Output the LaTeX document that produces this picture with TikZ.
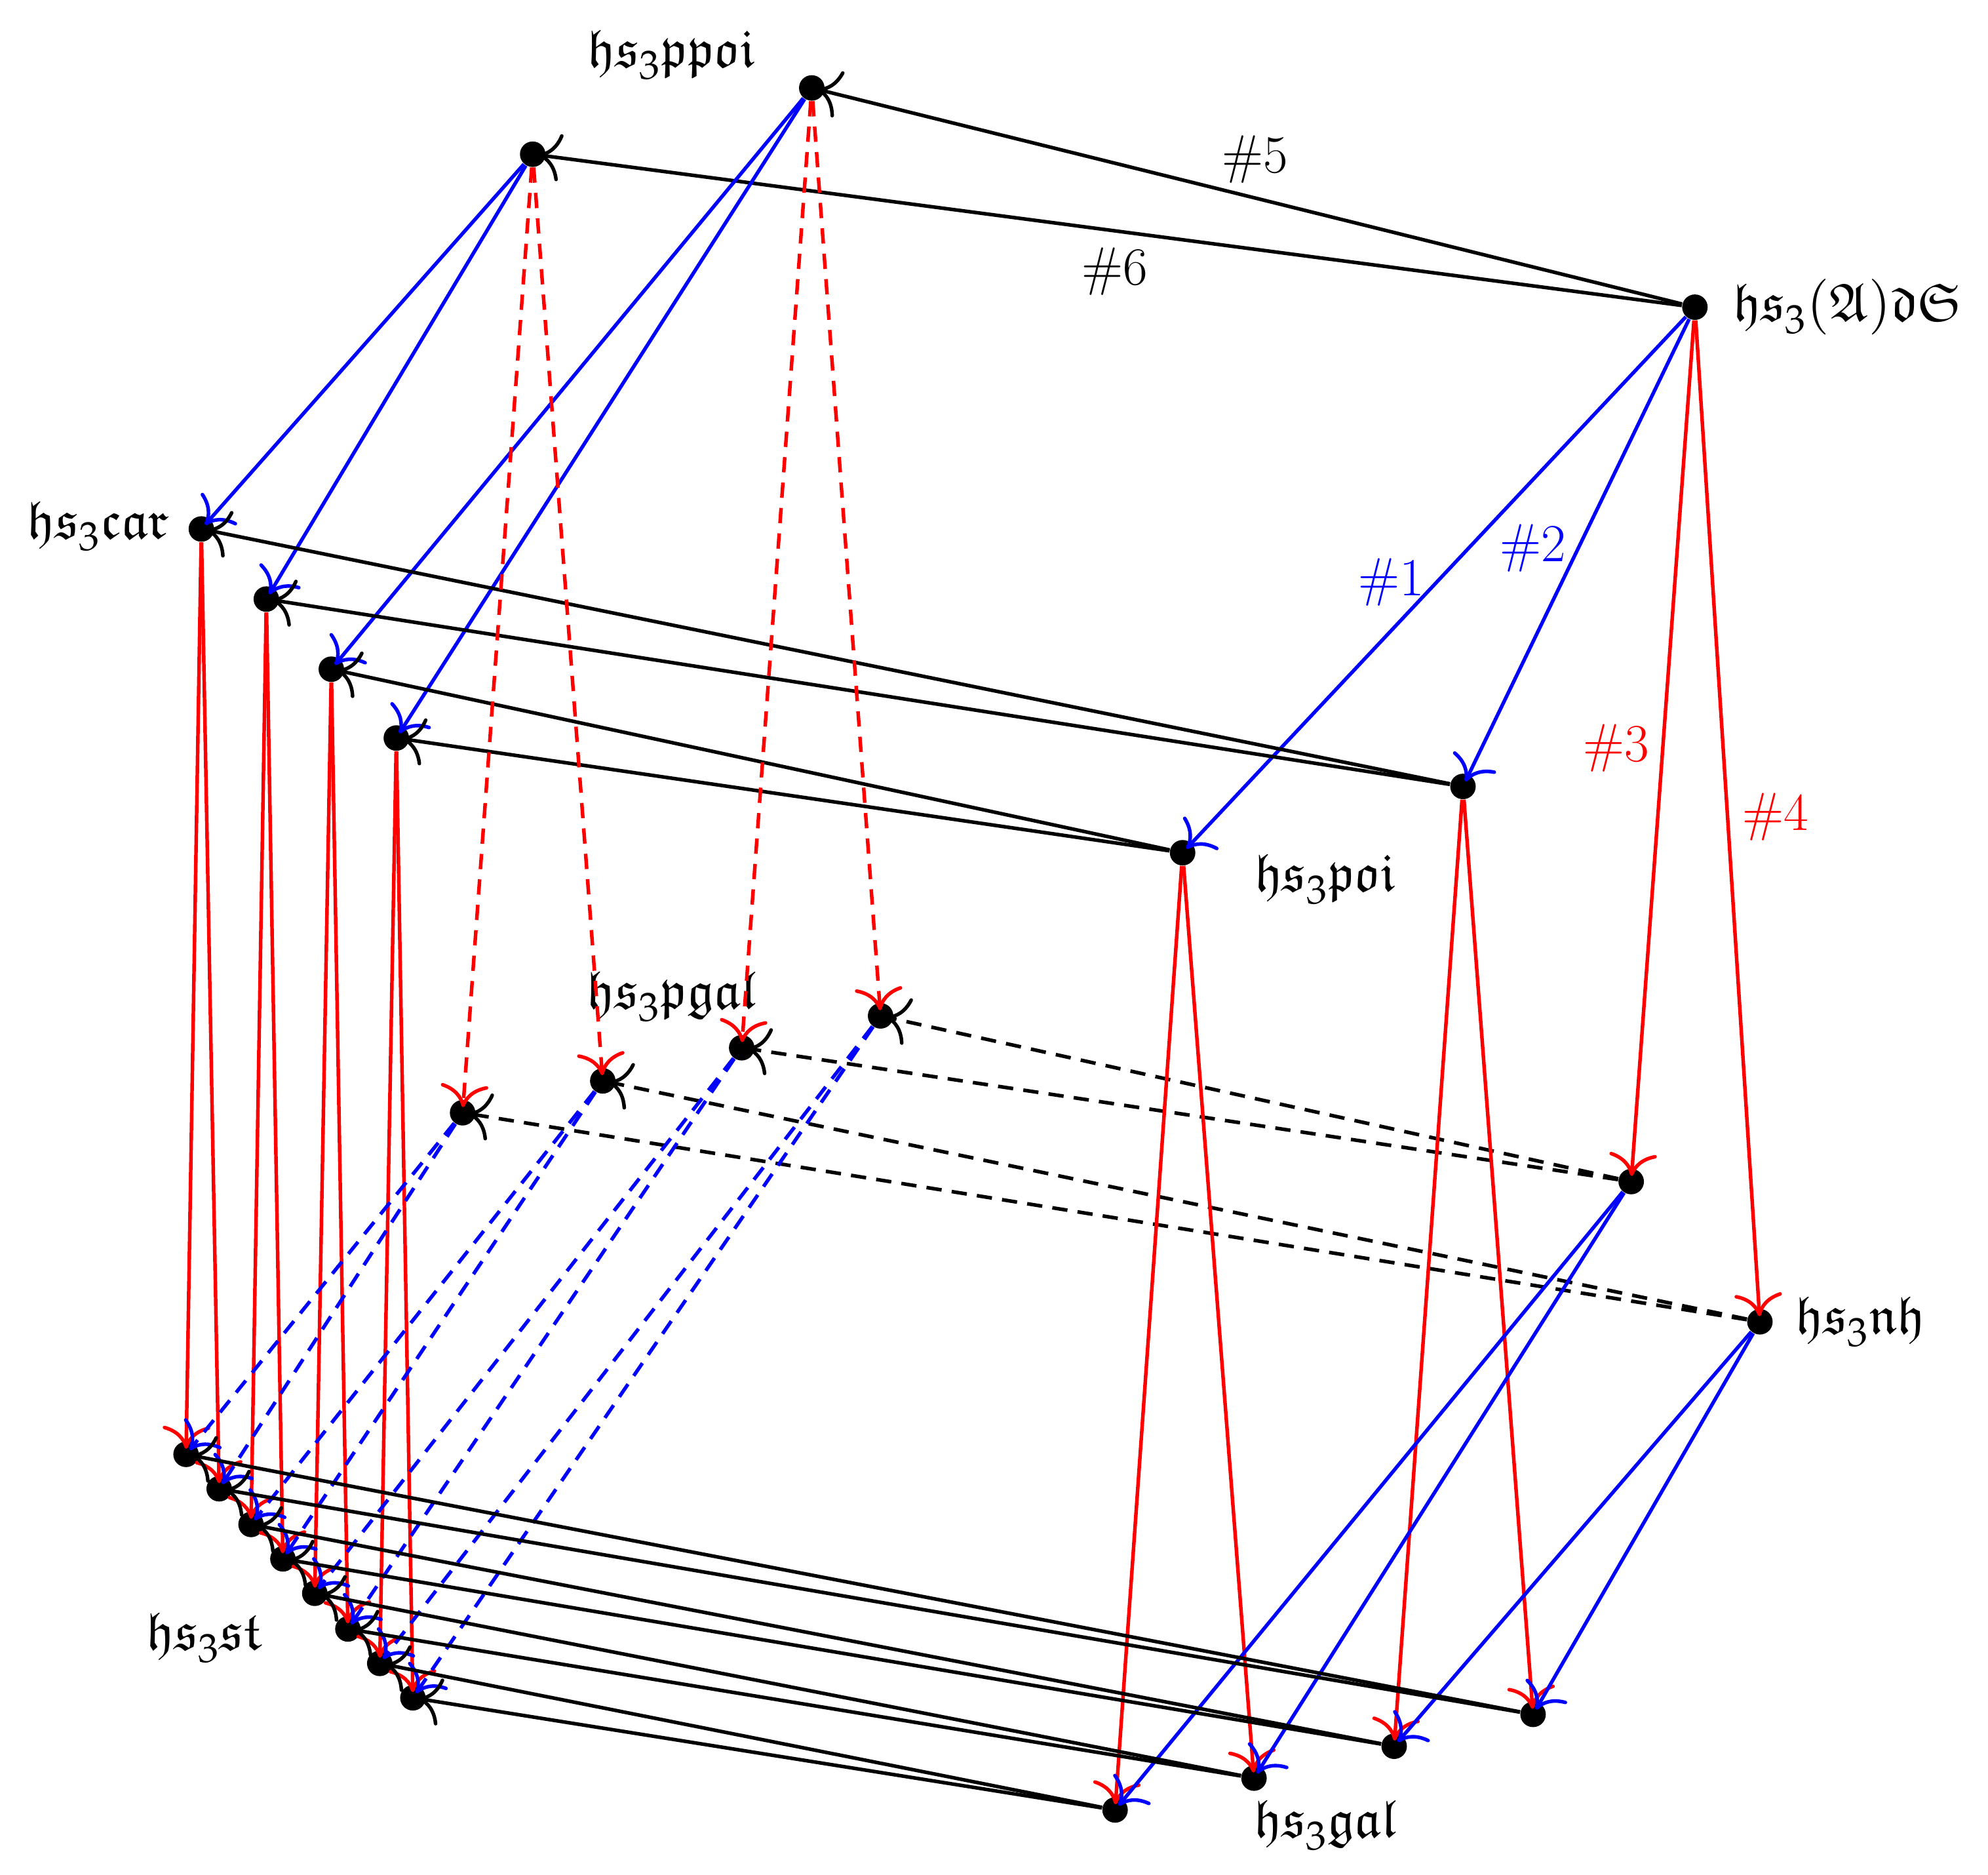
\documentclass[tikz,border=0pt]{standalone}
\usepackage{mathpazo}
\usepackage{amssymb}
\usetikzlibrary{arrows.meta}
\begin{document}
\begin{tikzpicture}[x=0.5pt,y=-0.5pt,
  dot/.style={circle,fill=black,inner sep=0pt,minimum size=10pt},
  lab/.style={font=\fontsize{21}{24}\selectfont},
  ar/.style={line width=1.4pt,-{To[scale=1.9]},shorten >=-3pt},
  bk/.style={ar,black},
  bl/.style={ar,blue},
  rd/.style={ar,red},
  ds/.style={dash pattern=on 6pt off 4pt}]
\useasboundingbox (0,0) rectangle (1560,1471);
\node[dot] (A) at (1330,241) {};
\node[dot] (pp) at (637,69) {};
\node[dot] (t) at (418,121) {};
\node[dot] (c1) at (158,415) {};
\node[dot] (c2) at (209,470) {};
\node[dot] (c3) at (260,525) {};
\node[dot] (c4) at (311,579) {};
\node[dot] (poi) at (928,669) {};
\node[dot] (q) at (1148,617) {};
\node[dot] (r) at (1280,927) {};
\node[dot] (nh) at (1381,1037) {};
\node[dot] (m1) at (363,873) {};
\node[dot] (m2) at (473,848) {};
\node[dot] (m3) at (582,822) {};
\node[dot] (m4) at (691,797) {};
\foreach \i/\x/\y in {1/146/1141,2/172/1168,3/197/1196,4/222/1223,5/247/1250,6/273/1278,7/298/1305,8/324/1332}
  \node[dot] (s\i) at (\x,\y) {};
\node[dot] (g1) at (875,1420) {};
\node[dot] (g2) at (984,1395) {};
\node[dot] (g3) at (1094,1370) {};
\node[dot] (g4) at (1203,1345) {};
% labels
\node[lab] (L1) at (527,43) {$\mathfrak{hs}_3\mathfrak{ppoi}$};
\node[lab] (L2) at (77,413) {$\mathfrak{hs}_3\mathfrak{car}$};
\node[lab] (L3) at (1040,690) {$\mathfrak{hs}_3\mathfrak{poi}$};
\node[lab] (L4) at (527,782) {$\mathfrak{hs}_3\mathfrak{pgal}$};
\node[lab] (L5) at (1460,1037) {$\mathfrak{hs}_3\mathfrak{nh}$};
\node[lab] (L6) at (160,1285) {$\mathfrak{hs}_3\mathfrak{st}$};
\node[lab] (L7) at (1040,1432) {$\mathfrak{hs}_3\mathfrak{gal}$};
\node[lab] (L8) at (1450,241) {$\mathfrak{hs}_3(\mathfrak{A})\mathfrak{dS}$};
\node[lab] (n5) at (985,125) {\#5};
\node[lab] (n6) at (875,213) {\#6};
\node[lab,blue] (n1) at (1092,457) {\#1};
\node[lab,blue] (n2) at (1203,430) {\#2};
\node[lab,red] (n3) at (1268,587) {\#3};
\node[lab,red] (n4) at (1393,641) {\#4};
% top
\draw[bk] (A) -- (pp);
\draw[bk] (A) -- (t);
\draw[bl] (A) -- (poi);
\draw[bl] (A) -- (q);
\draw[rd] (A) -- (r);
\draw[rd] (A) -- (nh);
\draw[bl] (t) -- (c1);
\draw[bl] (t) -- (c2);
\draw[bl] (pp) -- (c3);
\draw[bl] (pp) -- (c4);
\draw[bk] (q) -- (c1);
\draw[bk] (q) -- (c2);
\draw[bk] (poi) -- (c3);
\draw[bk] (poi) -- (c4);
\draw[rd,ds] (t) -- (m1);
\draw[rd,ds] (t) -- (m2);
\draw[rd,ds] (pp) -- (m3);
\draw[rd,ds] (pp) -- (m4);
\draw[bk,ds] (r) -- (m3);
\draw[bk,ds] (r) -- (m4);
\draw[bk,ds] (nh) -- (m1);
\draw[bk,ds] (nh) -- (m2);
% left verticals
\draw[rd] (c1) -- (s1); \draw[rd] (c1) -- (s2);
\draw[rd] (c2) -- (s3); \draw[rd] (c2) -- (s4);
\draw[rd] (c3) -- (s5); \draw[rd] (c3) -- (s6);
\draw[rd] (c4) -- (s7); \draw[rd] (c4) -- (s8);
\draw[bl,ds] (m1) -- (s1); \draw[bl,ds] (m1) -- (s2);
\draw[bl,ds] (m2) -- (s3); \draw[bl,ds] (m2) -- (s4);
\draw[bl,ds] (m3) -- (s5); \draw[bl,ds] (m3) -- (s6);
\draw[bl,ds] (m4) -- (s7); \draw[bl,ds] (m4) -- (s8);
% right
\draw[rd] (poi) -- (g1); \draw[rd] (poi) -- (g2);
\draw[rd] (q) -- (g3); \draw[rd] (q) -- (g4);
\draw[bl] (r) -- (g1); \draw[bl] (r) -- (g2);
\draw[bl] (nh) -- (g3); \draw[bl] (nh) -- (g4);
\draw[bk] (g1) -- (s8); \draw[bk] (g1) -- (s7);
\draw[bk] (g2) -- (s6); \draw[bk] (g2) -- (s5);
\draw[bk] (g3) -- (s4); \draw[bk] (g3) -- (s3);
\draw[bk] (g4) -- (s2); \draw[bk] (g4) -- (s1);
\end{tikzpicture}
\end{document}
